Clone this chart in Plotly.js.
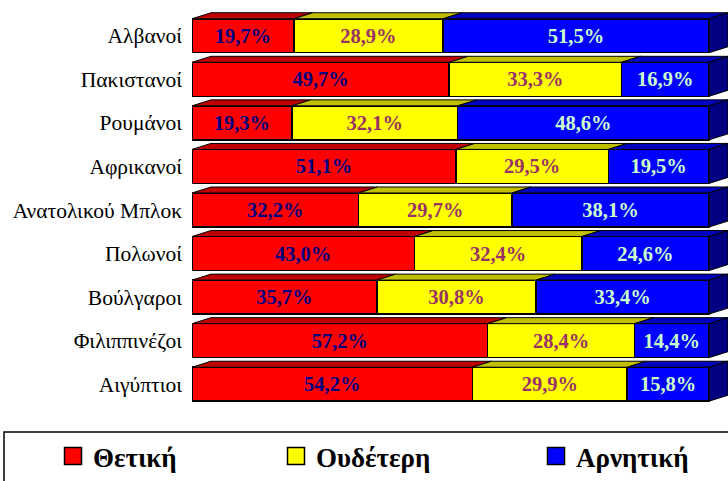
<!DOCTYPE html>
<html>
<head>
<meta charset="utf-8">
<script src="https://cdn.plot.ly/plotly-3.0.1.min.js"></script>
<style>
html,body{margin:0;padding:0;background:#fff;}
#chart{width:728px;height:481px;}
</style>
</head>
<body>
<div id="chart"></div>
<script>
var categories = ["Αλβανοί","Πακιστανοί","Ρουμάνοι","Αφρικανοί","Ανατολικού Μπλοκ","Πολωνοί","Βούλγαροι","Φιλιππινέζοι","Αιγύπτιοι"];
var positive = [19.7, 49.7, 19.3, 51.1, 32.2, 43.0, 35.7, 57.2, 54.2];
var neutral  = [28.9, 33.3, 32.1, 29.5, 29.7, 32.4, 30.8, 28.4, 29.9];
var negative = [51.5, 16.9, 48.6, 19.5, 38.1, 24.6, 33.4, 14.4, 15.8];
var seriesNames = ["Θετική","Ουδέτερη","Αρνητική"];

var FONT = "'Liberation Serif', 'Times New Roman', Times, 'DejaVu Serif', serif";
var series = [positive, neutral, negative];
var frontColors = ["#FF0000","#FFFF00","#0000FF"];
var topColors = ["#C00000","#C0C000","#0000C0"];
var labelColors = ["#000080","#993366","#CCFFCC"];
var legendIds = ["legend","legend2","legend3"];
var legendX = [53, 276, 536];
var rows = categories.map(function(_, i){ return i; });
function fmt(v){ return v.toFixed(1).replace('.', ',') + '%'; }

var traces = series.map(function(vals, j){
  return {
    type: 'bar', orientation: 'h', name: seriesNames[j], legend: legendIds[j],
    y: rows, x: vals,
    marker: {color: frontColors[j], line: {color: '#000', width: 1.5}},
    text: vals.map(fmt), textposition: 'inside', insidetextanchor: 'middle',
    constraintext: 'none', textangle: 0,
    textfont: {family: FONT, size: 20.5, weight: 'bold', color: labelColors[j]},
    hoverinfo: 'skip'
  };
});

// 3D faces, computed from the normalized stacked data
var plotW = 536, frontW = 517, unitPx = 43.56;
var xMax = 100 * plotW / frontW;
var dx = 19 * 100 / frontW;
var dy = 6 / unitPx;
var half = 0.39;
var shapes = [];
rows.forEach(function(i){
  var total = positive[i] + neutral[i] + negative[i];
  var cum = 0;
  series.forEach(function(vals, j){
    var x0 = cum / total * 100;
    cum += vals[i];
    var x1 = cum / total * 100;
    var yt = i - half;
    shapes.push({type: 'path', xref: 'x', yref: 'y',
      path: 'M' + x0 + ',' + yt + ' L' + x1 + ',' + yt + ' L' + (x1 + dx) + ',' + (yt - dy) + ' L' + (x0 + dx) + ',' + (yt - dy) + ' Z',
      fillcolor: topColors[j], line: {color: '#000', width: 1}});
  });
  var yt2 = i - half, yb = i + half;
  shapes.push({type: 'path', xref: 'x', yref: 'y',
    path: 'M100,' + yt2 + ' L' + (100 + dx) + ',' + (yt2 - dy) + ' L' + (100 + dx) + ',' + (yb - dy) + ' L100,' + yb + ' Z',
    fillcolor: '#000080', line: {color: '#000', width: 1}});
});
// legend frame
shapes.push({type: 'rect', xref: 'paper', yref: 'paper', x0: (4 - 192) / 536, x1: 1.05, y0: (406 - 432) / 399, y1: -0.4,
  line: {color: '#000', width: 1.5}, fillcolor: 'rgba(0,0,0,0)'});

var layout = {
  width: 728, height: 481,
  margin: {l: 192, r: 0, t: 7, b: 75},
  paper_bgcolor: '#fff', plot_bgcolor: 'rgba(0,0,0,0)',
  barmode: 'stack', barnorm: 'percent', bargap: 0.22,
  xaxis: {range: [0, xMax], visible: false, fixedrange: true},
  yaxis: {range: [8.5, 8.5 - 399 / unitPx], tickvals: rows, ticktext: categories,
    showgrid: false, zeroline: false, showline: false, ticks: '', ticklabelstandoff: 9,
    tickfont: {family: FONT, size: 21.5, color: '#000'}},
  showlegend: true,
  shapes: shapes,
  hovermode: false
};
legendIds.forEach(function(id, j){
  layout[id] = {orientation: 'h', x: (legendX[j] - 192) / 536, xanchor: 'left', y: (406 - 457) / 399, yanchor: 'middle',
    font: {family: FONT, size: 27, weight: 'bold', color: '#000'},
    bgcolor: 'rgba(0,0,0,0)', borderwidth: 0};
});

Plotly.newPlot('chart', traces, layout, {displayModeBar: false, staticPlot: true}).then(function(gd){
  // enlarge legend swatches to match the reference squares
  var pts = gd.querySelectorAll('.legendpoints path');
  pts.forEach(function(p){ p.setAttribute('d', 'M8.5,8.5H-8.5V-8.5H8.5Z'); });
});
</script>
</body>
</html>
